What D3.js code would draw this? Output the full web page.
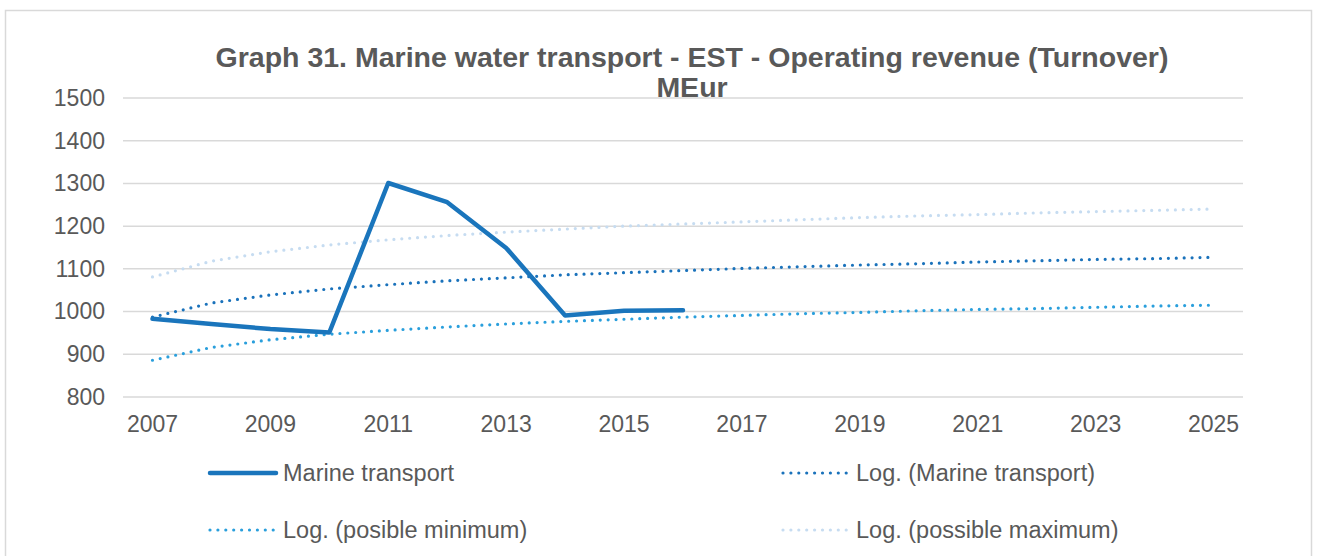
<!DOCTYPE html>
<html>
<head>
<meta charset="utf-8">
<script src="https://cdn.jsdelivr.net/npm/d3@7"></script>
<style>
  body { margin: 0; background: #fff; }
  text { font-family: "Liberation Sans", Arial, sans-serif; fill: #595959; }
</style>
</head>
<body>
<div id="vis"></div>
<script>
const FRAME_WIDTH = 1322;
const FRAME_HEIGHT = 556;
const MARGINS = {left: 123, right: 79, top: 98, bottom: 159};

const VIS_WIDTH = FRAME_WIDTH - MARGINS.left - MARGINS.right;
const VIS_HEIGHT = FRAME_HEIGHT - MARGINS.top - MARGINS.bottom;

// data
const years = [2007, 2008, 2009, 2010, 2011, 2012, 2013, 2014, 2015, 2016, 2017,
  2018, 2019, 2020, 2021, 2022, 2023, 2024, 2025];
const marine = [983, 971, 959, 951, 1301, 1256, 1149, 991, 1002, 1003];
const logMarine = [987, 1020, 1039, 1053, 1063, 1072, 1079, 1086, 1091, 1096,
  1101, 1105, 1109, 1112, 1116, 1119, 1122, 1124, 1127];
const logMin = [886, 916, 934, 947, 956, 964, 971, 977, 982, 987,
  991, 995, 998, 1002, 1005, 1007, 1010, 1013, 1015];
const logMax = [1081, 1118, 1140, 1156, 1168, 1178, 1186, 1193, 1200, 1205,
  1210, 1215, 1220, 1224, 1227, 1231, 1234, 1237, 1240];
const yTicks = [800, 900, 1000, 1100, 1200, 1300, 1400, 1500];
const xTickYears = [2007, 2009, 2011, 2013, 2015, 2017, 2019, 2021, 2023, 2025];

const svg = d3.select("#vis")
  .append("svg")
    .attr("width", FRAME_WIDTH)
    .attr("height", FRAME_HEIGHT);

// chart border
svg.append("rect")
  .attr("x", 5.5).attr("y", 10.5)
  .attr("width", 1306).attr("height", 560)
  .attr("fill", "none")
  .attr("stroke", "#d9d9d9")
  .attr("stroke-width", 1.5);

// title
const title = svg.append("text")
  .attr("text-anchor", "middle")
  .style("font-size", "28.5px")
  .style("font-weight", "bold");
title.append("tspan").attr("x", 692).attr("y", 67)
  .text("Graph 31. Marine water transport - EST - Operating revenue (Turnover)");
title.append("tspan").attr("x", 692).attr("y", 97).text("MEur");

const FRAME = svg.append("g")
  .attr("transform", "translate(" + MARGINS.left + "," + MARGINS.top + ")");

const x = d3.scaleBand()
  .domain(years)
  .range([0, VIS_WIDTH]);

const y = d3.scaleLinear()
  .domain([800, 1500])
  .range([VIS_HEIGHT, 0]);

// gridlines
FRAME.append("g")
  .selectAll("line")
  .data(yTicks)
  .enter()
  .append("line")
    .attr("x1", 0).attr("x2", VIS_WIDTH)
    .attr("y1", d => y(d)).attr("y2", d => y(d))
    .attr("stroke", "#d9d9d9")
    .attr("stroke-width", 1.5);

// y axis
const yAxis = FRAME.append("g")
  .call(d3.axisLeft(y).tickValues(yTicks).tickFormat(d3.format("d")).tickSize(0).tickPadding(18));
yAxis.select(".domain").remove();
yAxis.selectAll("text").style("font-size", "23px").attr("fill", "#595959");

// x axis
const xAxis = FRAME.append("g")
  .attr("transform", "translate(0," + VIS_HEIGHT + ")")
  .call(d3.axisBottom(x).tickValues(xTickYears).tickSize(0).tickPadding(19));
xAxis.select(".domain").remove();
xAxis.selectAll("text").style("font-size", "23px").attr("fill", "#595959");

const cx = d => x(d) + x.bandwidth() / 2;

const series = [
  {name: "Log. (possible maximum)", values: logMax, color: "#c6dcf1", dotted: true},
  {name: "Log. (posible minimum)", values: logMin, color: "#2a9fdc", dotted: true},
  {name: "Log. (Marine transport)", values: logMarine, color: "#1a72bb", dotted: true},
  {name: "Marine transport", values: marine, color: "#1a75bc", dotted: false}
];

const line = d3.line()
  .x((d, i) => cx(years[i]))
  .y(d => y(d));

series.forEach(s => {
  const path = FRAME.append("path")
    .datum(s.values)
    .attr("d", line)
    .attr("fill", "none")
    .attr("stroke", s.color)
    .attr("stroke-linecap", "round")
    .attr("stroke-linejoin", "round");
  if (s.dotted) {
    path.attr("stroke-width", 3.2).attr("stroke-dasharray", "0 7.9");
  } else {
    path.attr("stroke-width", 4.5);
  }
});

// legend
const legendItems = [
  {s: series[3], x: 208, y: 473},
  {s: series[2], x: 781, y: 473},
  {s: series[1], x: 208, y: 530},
  {s: series[0], x: 781, y: 530}
];

legendItems.forEach(item => {
  const g = svg.append("g");
  const l = g.append("line")
    .attr("x1", item.x + 2).attr("x2", item.x + 68)
    .attr("y1", item.y).attr("y2", item.y)
    .attr("stroke", item.s.color)
    .attr("stroke-linecap", "round");
  if (item.s.dotted) {
    l.attr("stroke-width", 3.2).attr("stroke-dasharray", "0 7.9");
  } else {
    l.attr("stroke-width", 4.5);
  }
  g.append("text")
    .attr("x", item.x + 75)
    .attr("y", item.y + 8)
    .style("font-size", "23.5px")
    .text(item.s.name);
});
</script>
</body>
</html>
